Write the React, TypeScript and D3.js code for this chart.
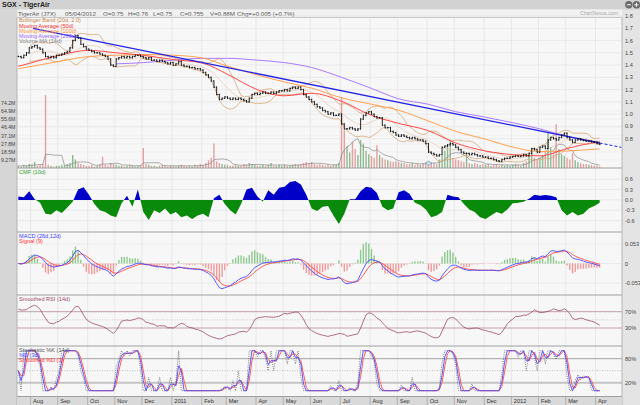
import React from 'react';
import * as d3 from 'd3';

// one sample = two trading days, Jul 2010 .. Apr 2012
const closes: number[] = [
  1.47, 1.46, 1.48, 1.5, 1.54, // Jul
  1.55, 1.56, 1.54, 1.53, 1.5, 1.47, 1.46, 1.47, 1.46, 1.48, // Aug
  1.48, 1.49, 1.5, 1.51, 1.54, 1.6, 1.64, 1.62, 1.57, 1.55, 1.53, // Sep
  1.52, 1.51, 1.5, 1.5, 1.49, 1.48, 1.47, 1.45, 1.4, 1.39, // Oct
  1.45, 1.46, 1.47, 1.46, 1.47, 1.46, 1.47, 1.48, 1.48, 1.47, // Nov
  1.46, 1.45, 1.46, 1.44, 1.44, 1.43, 1.44, 1.43, 1.42, 1.41, 1.42, // Dec
  1.4, 1.41, 1.43, 1.4, 1.39, 1.39, 1.38, 1.38, 1.37, 1.37, 1.36, // Jan 2011
  1.34, 1.32, 1.3, 1.27, 1.22, 1.16, 1.12, 1.13, 1.14, // Feb
  1.13, 1.12, 1.13, 1.12, 1.13, 1.12, 1.11, 1.1, 1.13, 1.16, 1.17, // Mar
  1.16, 1.17, 1.18, 1.17, 1.17, 1.18, 1.17, 1.18, 1.19, 1.19, // Apr
  1.2, 1.19, 1.21, 1.22, 1.21, 1.22, 1.2, 1.16, 1.14, 1.12, // May
  1.1, 1.08, 1.06, 1.05, 1.03, 1.02, 1.0, 1.01, 0.99, 0.99, 1.0, // Jun
  0.92, 0.88, 0.88, 0.89, 0.88, 0.87, 0.88, 0.96, 0.99, 1.01, 1.02, // Jul
  1.0, 0.98, 0.97, 0.97, 0.91, 0.89, 0.89, 0.86, 0.85, 0.83, // Aug
  0.82, 0.83, 0.82, 0.81, 0.8, 0.81, 0.8, 0.79, 0.79, 0.78, 0.76, // Sep
  0.69, 0.68, 0.67, 0.66, 0.67, 0.73, 0.74, 0.75, 0.76, 0.75, // Oct
  0.73, 0.71, 0.69, 0.68, 0.68, 0.67, 0.68, 0.67, 0.66, 0.66, 0.65, // Nov
  0.65, 0.64, 0.64, 0.63, 0.62, 0.615, 0.63, 0.64, 0.64, 0.65, // Dec
  0.655, 0.66, 0.655, 0.66, 0.67, 0.66, 0.68, 0.72, 0.71, 0.69, // Jan 2012
  0.73, 0.74, 0.72, 0.79, 0.81, 0.8, 0.79, 0.81, 0.83, 0.845, // Feb
  0.81, 0.79, 0.77, 0.79, 0.8, 0.79, 0.785, 0.78, 0.78, 0.775, 0.77, // Mar
  0.76, 0.755, // Apr
];

// millions of shares
const volumes: number[] = [
  3, 2, 4, 3, 5,
  4, 7, 3, 4, 5, 83, 4, 3, 2, 3,
  3, 4, 3, 5, 6, 15, 10, 6, 5, 4, 3,
  3, 4, 2, 3, 5, 13, 4, 3, 6, 5,
  4, 3, 3, 2, 3, 4, 3, 2, 3, 4,
  23, 5, 4, 3, 3, 2, 3, 4, 3, 2, 3,
  3, 2, 3, 4, 3, 2, 3, 2, 4, 3, 5,
  4, 6, 9, 12, 28, 8, 6, 5, 4,
  4, 3, 3, 4, 3, 3, 5, 4, 6, 5, 4,
  3, 3, 4, 3, 4, 6, 3, 3, 4, 3,
  4, 3, 3, 4, 5, 4, 5, 6, 7, 6,
  7, 5, 4, 5, 4, 3, 4, 3, 4, 5, 6,
  81, 43, 25, 18, 30, 22, 15, 32, 28, 20, 16,
  14, 12, 26, 15, 12, 10, 9, 8, 7, 8,
  7, 6, 6, 5, 5, 6, 4, 5, 4, 6, 7,
  8, 7, 6, 5, 10, 14, 20, 26, 32, 12,
  10, 9, 8, 7, 18, 6, 5, 6, 5, 4, 5,
  4, 5, 3, 4, 5, 3, 4, 3, 4, 3,
  4, 5, 4, 3, 6, 8, 14, 18, 12, 10,
  12, 15, 20, 40, 24, 18, 50, 22, 16, 14,
  12, 10, 17, 9, 7, 6, 5, 5, 4, 4, 3,
  3, 2,
];

// Chaikin money flow, one value every second sample
const cmf: number[] = [
  0.1, 0.08, 0.25, 0.02, -0.08, -0.4, -0.42, -0.3, -0.38, -0.22,
  -0.05, 0.3, 0.37, 0.15, -0.12, -0.3, -0.35, -0.45, -0.5, -0.1,
  0.12, -0.2, 0.3, -0.35, -0.58, -0.3, -0.38, -0.25, -0.42, -0.35,
  -0.5, -0.45, -0.55, -0.45, -0.4, -0.5, 0.05, 0.15, -0.12, -0.3,
  -0.42, -0.12, 0.3, 0.35, 0.1, -0.05, 0.28, 0.15, 0.35, 0.38,
  0.52, 0.55, 0.45, 0.15, -0.25, -0.32, -0.2, -0.18, -0.45, -0.7,
  -0.4, 0.02, 0.02, 0.25, 0.38, 0.35, 0.2, -0.2, -0.3, -0.25,
  0.22, 0.28, 0.18, -0.08, -0.15, -0.28, -0.5, -0.45, -0.35, 0.15,
  0.1, 0.08, -0.12, -0.28, -0.35, -0.5, -0.55, -0.45, -0.35, -0.4,
  -0.28, -0.1, -0.08, -0.05, 0.03, 0.15, 0.12, 0.14, 0.12, 0.08,
  -0.3, -0.45, -0.35, -0.45, -0.4, -0.25, -0.18, -0.08,
];

const monthNames = ['Jul', 'Aug', 'Sep', 'Oct', 'Nov', 'Dec', '2011', 'Feb', 'Mar', 'Apr', 'May', 'Jun',
  'Jul', 'Aug', 'Sep', 'Oct', 'Nov', 'Dec', '2012', 'Feb', 'Mar', 'Apr'];
const monthSamples = [5, 10, 11, 10, 10, 11, 11, 9, 11, 10, 10, 11, 11, 10, 11, 10, 11, 10, 10, 10, 11, 2];

// moving averages read at every month start plus the last sample
const ma50 = [1.39, 1.42, 1.48, 1.52, 1.5, 1.48, 1.445, 1.415, 1.325, 1.2, 1.15, 1.17, 1.105, 0.99,
  0.925, 0.865, 0.765, 0.7, 0.67, 0.66, 0.72, 0.772, 0.775];
const ma100 = [1.37, 1.39, 1.43, 1.47, 1.48, 1.485, 1.48, 1.457, 1.391, 1.319, 1.262, 1.212, 1.133,
  1.081, 1.032, 0.944, 0.86, 0.796, 0.732, 0.695, 0.7, 0.715, 0.716];
const ma200 = [null, null, null, null, 1.41, 1.42, 1.44, 1.455, 1.455, 1.44, 1.42, 1.38, 1.3, 1.21,
  1.125, 1.08, 1.02, 0.975, 0.93, 0.88, 0.82, 0.772, 0.77];

const priceTicks = [0.8, 0.9, 1.0, 1.1, 1.2, 1.3, 1.4, 1.5, 1.6, 1.7, 1.8];
const volumeTicks = [9.27, 18.5, 27.8, 37.1, 46.4, 55.6, 64.9, 74.2];
const volumeTickLabels = ['9.27M', '18.5M', '27.8M', '37.1M', '46.4M', '55.6M', '64.9M', '74.2M'];
const cmfTicks = [0.6, 0.3, 0, -0.3, -0.6];
const macdTicks = [0.053, 0, -0.053];
const rsiLevels = [70, 30];
const stochLevels = [80, 20];
const trendPoints = [{ i: 5.4, p: 1.7 }, { i: 214, p: 0.765 }];
const trendEndIdx = 222;
const eventIdx = 151;

const headerItems = ['TigerAir (J7X)', '05/04/2012', 'O=0.75', 'H=0.76', 'L=0.75', 'C=0.755', 'V=0.88M', 'Chg=+0.005 (+0.7%)'];
const headerX = [18, 65, 103, 128, 153, 180, 210, 237];

const FONT = 'Liberation Sans, Arial, sans-serif';
const L = 17;
const R = 622;
const TOP = 17.5;
const PANELS = [168, 232, 295, 346, 396.5];

const emaOf = (arr: number[], n: number) => {
  const a = 2 / (n + 1);
  const out: number[] = [];
  arr.forEach((v, i) => out.push(i === 0 ? v : out[i - 1] + a * (v - out[i - 1])));
  return out;
};
const smaOf = (arr: number[], n: number) =>
  arr.map((_, i) => d3.mean(arr.slice(Math.max(0, i - n + 1), i + 1)) as number);

// indicators (periods halved because of two-day samples)
const bb = closes.map((_, i) => {
  const w = closes.slice(Math.max(0, i - 9), i + 1);
  const m = d3.mean(w) as number;
  const sd = Math.sqrt(d3.mean(w, v => (v - m) ** 2) as number);
  return { i, mid: m, up: m + 2 * sd, lo: m - 2 * sd };
}).filter(d => d.i >= 4);

const emaSlow = emaOf(closes, 13);
const macd = emaOf(closes, 6).map((v, i) => v - emaSlow[i]);
const signal = emaOf(macd, 4.5);

const changes = closes.map((c, i) => (i === 0 ? 0 : c - closes[i - 1]));
const rsiRaw: number[] = [];
{
  let ag = d3.mean(changes.slice(1, 8), c => Math.max(c, 0)) as number;
  let al = d3.mean(changes.slice(1, 8), c => Math.max(-c, 0)) as number;
  changes.forEach((c, i) => {
    if (i > 0) {
      ag = (ag * 6 + Math.max(c, 0)) / 7;
      al = (al * 6 + Math.max(-c, 0)) / 7;
    }
    rsiRaw.push(al === 0 ? 100 : 100 - 100 / (1 + ag / al));
  });
}
const rsi = smaOf(rsiRaw, 3);

const kLine = closes.map((c, i) => {
  const w = closes.slice(Math.max(0, i - 6), i + 1);
  const lo = d3.min(w) as number;
  const hi = d3.max(w) as number;
  return hi === lo ? 50 : ((c - lo) / (hi - lo)) * 100;
});
const dLine = smaOf(kLine, 2);
const sdLine = smaOf(dLine, 2);
const volMa = smaOf(volumes, 7);

export default function App() {
  const N = closes.length;
  const x = d3.scaleLinear().domain([0, N]).range([L, 601]);
  const xc = (i: number) => x(i + 0.5);

  const yPrice = d3.scaleLinear().domain([0.8, 1.8]).range([138.7, 16]);
  const yVol = d3.scaleLinear().domain([0, 74.2]).range([168.3, 102.8]);
  const yCmf = d3.scaleLinear().domain([-0.6, 0.6]).range([220.6, 179.2]);
  const yMacd = d3.scaleLinear().domain([-0.053, 0.053]).range([283, 244]);
  const yRsi = d3.scaleLinear().domain([30, 70]).range([328, 311.7]);
  const ySto = d3.scaleLinear().domain([20, 80]).range([382.7, 358.7]);

  const monthStarts: number[] = [];
  monthSamples.forEach((n, k) => monthStarts.push(k === 0 ? 0 : monthStarts[k - 1] + monthSamples[k - 1]));
  const nodeIdx = [...monthStarts, N - 1];

  const lineXY = d3.line<[number, number]>().x(d => d[0]).y(d => d[1]);
  const smooth = d3.line<[number, number]>().x(d => d[0]).y(d => d[1]).curve(d3.curveMonotoneX);

  const maPath = (vals: (number | null)[]) =>
    smooth(nodeIdx.map((idx, k) => [idx, vals[k]] as [number, number | null])
      .filter(d => d[1] !== null)
      .map(d => [xc(d[0]), yPrice(d[1] as number)] as [number, number])) || '';

  const series = (vals: number[], y: (v: number) => number) =>
    lineXY(vals.map((v, i) => [xc(i), y(v)] as [number, number])) || '';

  const cmfArea = d3.area<number>()
    .x((_, k) => xc(k * 2))
    .y0(yCmf(0))
    .y1(v => yCmf(v))(cmf) || '';

  const trendY = (i: number) =>
    trendPoints[0].p + ((trendPoints[1].p - trendPoints[0].p) * (i - trendPoints[0].i)) / (trendPoints[1].i - trendPoints[0].i);

  const txt = { fontFamily: FONT, fontSize: 5.6 } as const;
  const monthX = monthStarts.slice(1).map(i => x(i));

  return (
    <svg width={640} height={405} style={{ position: 'absolute', left: 0, top: 0 }}>
      <defs>
        <clipPath id="cMain"><rect x={L} y={TOP} width={R - L} height={PANELS[0] - TOP} /></clipPath>
        <clipPath id="cPos"><rect x={L} y={PANELS[0]} width={R - L} height={yCmf(0) - PANELS[0]} /></clipPath>
        <clipPath id="cNeg"><rect x={L} y={yCmf(0)} width={R - L} height={PANELS[1] - yCmf(0)} /></clipPath>
        <clipPath id="cMacd"><rect x={L} y={PANELS[1]} width={R - L} height={PANELS[2] - PANELS[1]} /></clipPath>
        <clipPath id="cRsi"><rect x={L} y={PANELS[2]} width={R - L} height={PANELS[3] - PANELS[2]} /></clipPath>
        <clipPath id="cSto"><rect x={L} y={PANELS[3]} width={R - L} height={PANELS[4] - PANELS[3]} /></clipPath>
      </defs>

      {/* frame */}
      <rect x={0} y={0} width={640} height={405} fill="#e4e4e4" />
      <rect x={0} y={0} width={640} height={9.5} fill="#d2d2d2" />
      <text x={2} y={7.4} fontFamily={FONT} fontSize={7} fontWeight="bold" fill="#222">SGX - TigerAir</text>
      <circle cx={628.8} cy={4.8} r={3.7} fill="#6a6a6a" />
      <line x1={626.8} x2={630.8} y1={4.8} y2={4.8} stroke="#fff" strokeWidth={1} />
      <circle cx={636.4} cy={4.8} r={3.7} fill="#6a6a6a" />
      <line x1={634.4} x2={638.4} y1={4.8} y2={4.8} stroke="#fff" strokeWidth={1} />
      <line x1={636.4} x2={636.4} y1={2.8} y2={6.8} stroke="#fff" strokeWidth={1} />
      <rect x={0} y={9.5} width={17} height={395.5} fill="#d6d6d6" />
      <rect x={17} y={9.5} width={605} height={8} fill="#f1f1f1" />
      {headerItems.map((t, k) => (
        <text key={t} x={headerX[k]} y={15.6} {...txt} fontSize={6.2} fill="#555">{t}</text>
      ))}
      <text x={580} y={15.2} {...txt} fontSize={5.1} fill="#aaa">ChartNexus.com</text>
      <rect x={L} y={TOP} width={R - L} height={PANELS[4] - TOP} fill="#f7f7f7" />

      {/* grid */}
      {monthX.map((mx, k) => (
        <line key={'vg' + k} x1={mx} x2={mx} y1={TOP} y2={PANELS[4]} stroke="#e2e2e2" strokeWidth={0.7} />
      ))}
      {priceTicks.map(p => (
        <line key={'pg' + p} x1={L} x2={R} y1={yPrice(p)} y2={yPrice(p)} stroke="#e4e4e4" strokeWidth={0.7} />
      ))}
      {volumeTicks.map(v => (
        <line key={'vgl' + v} x1={L} x2={R} y1={yVol(v)} y2={yVol(v)} stroke="#ececec" strokeWidth={0.6} />
      ))}
      {cmfTicks.map(v => (
        <line key={'cg' + v} x1={L} x2={R} y1={yCmf(v)} y2={yCmf(v)} stroke="#e4e4e4" strokeWidth={0.7} />
      ))}
      {macdTicks.map(v => (
        <line key={'mg' + v} x1={L} x2={R} y1={yMacd(v)} y2={yMacd(v)} stroke="#e4e4e4" strokeWidth={0.7} />
      ))}

      {/* volume */}
      <g clipPath="url(#cMain)">
        {volumes.map((v, i) => {
          const up = i === 0 || closes[i] >= closes[i - 1];
          return (
            <line key={'v' + i} x1={xc(i)} x2={xc(i)} y1={yVol(0)} y2={yVol(v)}
              stroke={up ? '#8fb88f' : '#e2a0a0'} strokeWidth={1.4} />
          );
        })}
        <path d={series(volMa, yVol)} fill="none" stroke="#8a8a8a" strokeWidth={0.7} />

        {/* bollinger */}
        <path d={lineXY(bb.map(d => [xc(d.i), yPrice(d.up)] as [number, number])) || ''} fill="none" stroke="#d6a77a" strokeWidth={0.8} />
        <path d={lineXY(bb.map(d => [xc(d.i), yPrice(d.lo)] as [number, number])) || ''} fill="none" stroke="#d6a77a" strokeWidth={0.8} />
        <path d={lineXY(bb.map(d => [xc(d.i), yPrice(d.mid)] as [number, number])) || ''} fill="none" stroke="#e2c3a4" strokeWidth={0.6} />

        {/* moving averages */}
        <path d={maPath(ma200)} fill="none" stroke="#a77cff" strokeWidth={1} />
        <path d={maPath(ma100)} fill="none" stroke="#ffa050" strokeWidth={1} />
        <path d={maPath(ma50)} fill="none" stroke="#ff4a4a" strokeWidth={1} />

        {/* trend line */}
        <line x1={xc(trendPoints[0].i)} y1={yPrice(trendPoints[0].p)} x2={xc(trendPoints[1].i)} y2={yPrice(trendPoints[1].p)}
          stroke="#2424e6" strokeWidth={1.3} />
        <line x1={xc(trendPoints[1].i)} y1={yPrice(trendPoints[1].p)} x2={xc(trendEndIdx)} y2={yPrice(trendY(trendEndIdx))}
          stroke="#2424e6" strokeWidth={1} strokeDasharray="3,2" />

        {/* price bars */}
        {closes.map((c, i) => {
          const o = i === 0 ? c : closes[i - 1];
          const hi = Math.max(o, c);
          const lo = Math.min(o, c);
          const cx = xc(i);
          return (
            <g key={'p' + i} stroke="#111" strokeWidth={0.9}>
              <line x1={cx} x2={cx} y1={yPrice(hi) - 0.8} y2={yPrice(lo) + 0.8} />
              <line x1={cx - 1} x2={cx} y1={yPrice(o)} y2={yPrice(o)} />
              <line x1={cx} x2={cx + 1} y1={yPrice(c)} y2={yPrice(c)} />
            </g>
          );
        })}
        <circle cx={xc(eventIdx)} cy={yVol(0) - 5} r={2.2} fill="#b8e0ec" stroke="#7aa6b4" strokeWidth={0.5} />
      </g>

      {/* CMF */}
      <path d={cmfArea} fill="#0000c8" clipPath="url(#cPos)" />
      <path d={cmfArea} fill="#0a8a0a" clipPath="url(#cNeg)" />

      {/* MACD */}
      <g clipPath="url(#cMacd)">
        {macd.map((m, i) => {
          const h = (m - signal[i]) * 3;
          return (
            <line key={'h' + i} x1={xc(i)} x2={xc(i)} y1={yMacd(0)} y2={yMacd(h)}
              stroke={h >= 0 ? '#8cc98c' : '#f09a9a'} strokeWidth={1.4} />
          );
        })}
        <path d={series(signal, yMacd)} fill="none" stroke="#ff4b4b" strokeWidth={0.9} />
        <path d={series(macd, yMacd)} fill="none" stroke="#4848ff" strokeWidth={0.9} />
      </g>

      {/* RSI */}
      <g clipPath="url(#cRsi)">
        {rsiLevels.map(v => (
          <line key={'rl' + v} x1={L} x2={R} y1={yRsi(v)} y2={yRsi(v)} stroke="#b896a2" strokeWidth={0.9} />
        ))}
        <line x1={L} x2={R} y1={yRsi(50)} y2={yRsi(50)} stroke="#aaa" strokeWidth={0.6} strokeDasharray="1,1.5" />
        <path d={series(rsi, yRsi)} fill="none" stroke="#9c4a68" strokeWidth={0.8} />
      </g>

      {/* Stochastic */}
      <g clipPath="url(#cSto)">
        <line x1={L} x2={R} y1={ySto(80)} y2={ySto(80)} stroke="#9a9a9a" strokeWidth={0.9} />
        <line x1={L} x2={R} y1={ySto(20)} y2={ySto(20)} stroke="#c4c4c4" strokeWidth={2} />
        <line x1={L} x2={R} y1={ySto(50)} y2={ySto(50)} stroke="#999" strokeWidth={0.6} strokeDasharray="1,1.5" />
        <path d={series(kLine, ySto)} fill="none" stroke="#555" strokeWidth={0.7} strokeDasharray="1,1.2" />
        <path d={series(sdLine, ySto)} fill="none" stroke="#ff5a5a" strokeWidth={1} />
        <path d={series(dLine, ySto)} fill="none" stroke="#4a4aff" strokeWidth={0.9} />
      </g>

      {/* panel separators & borders */}
      {PANELS.map(py => (
        <line key={'sep' + py} x1={L} x2={R} y1={py} y2={py} stroke="#a0a0a0" strokeWidth={1.1} />
      ))}
      <line x1={L} x2={R} y1={TOP} y2={TOP} stroke="#bdbdbd" strokeWidth={0.8} />
      <line x1={L} x2={L} y1={TOP} y2={405} stroke="#a8a8a8" strokeWidth={0.8} />
      <line x1={R} x2={R} y1={TOP} y2={405} stroke="#a8a8a8" strokeWidth={0.8} />

      {/* x axis */}
      <rect x={L} y={PANELS[4] + 0.5} width={R - L} height={405 - PANELS[4]} fill="#d9d9d9" />
      {monthX.map((mx, k) => (
        <g key={'xa' + k}>
          <line x1={mx} x2={mx} y1={PANELS[4]} y2={405} stroke="#a6a6a6" strokeWidth={0.8} />
          <text x={mx + 2.5} y={403} {...txt} fill="#333">{monthNames[k + 1]}</text>
        </g>
      ))}

      {/* right axis labels */}
      {priceTicks.map(p => (
        <text key={'pt' + p} x={625} y={yPrice(p) + 2} {...txt} fill="#444">{p.toFixed(1)}</text>
      ))}
      {cmfTicks.map(v => (
        <text key={'ct' + v} x={625} y={yCmf(v) + 2} {...txt} fill="#444">{v.toFixed(1)}</text>
      ))}
      {macdTicks.map(v => (
        <text key={'mt' + v} x={625} y={yMacd(v) + 2} {...txt} fill="#444">{v === 0 ? '0' : v.toFixed(3)}</text>
      ))}
      {rsiLevels.map(v => (
        <text key={'rt' + v} x={625} y={yRsi(v) + 2} {...txt} fill="#444">{v}%</text>
      ))}
      {stochLevels.map(v => (
        <text key={'st' + v} x={625} y={ySto(v) + 2} {...txt} fill="#444">{v}%</text>
      ))}
      {volumeTicks.map((v, k) => (
        <text key={'vt' + v} x={1} y={yVol(v) + 2} {...txt} fontSize={5.2} fill="#444">{volumeTickLabels[k]}</text>
      ))}

      {/* legends */}
      <text x={19} y={22.3} {...txt} fill="#c8884a">Bollinger Band (20d, 2.0)</text>
      <text x={19} y={27.5} {...txt} fill="#f03030">Moving Average (50d)</text>
      <text x={19} y={32.7} {...txt} fill="#ff9030">Moving Average (100d)</text>
      <text x={19} y={37.9} {...txt} fill="#9966ff">Moving Average (200d)</text>
      <text x={19} y={43.1} {...txt} fill="#808080">Volume MA (14d)</text>
      <text x={19} y={174} {...txt} fill="#30a030">CMF (10d)</text>
      <text x={19} y={237.8} {...txt} fill="#4040ff">MACD (26d,12d)</text>
      <text x={19} y={243} {...txt} fill="#ff3030">Signal (9)</text>
      <text x={19} y={301} {...txt} fill="#9c4a68">Smoothed RSI (14d)</text>
      <text x={19} y={351.8} {...txt} fill="#555">Stochastic %K (14d)</text>
      <text x={19} y={357} {...txt} fill="#4040ff">%D (3d)</text>
      <text x={19} y={362.2} {...txt} fill="#ff3030">Smoothed %D (3)</text>
    </svg>
  );
}
